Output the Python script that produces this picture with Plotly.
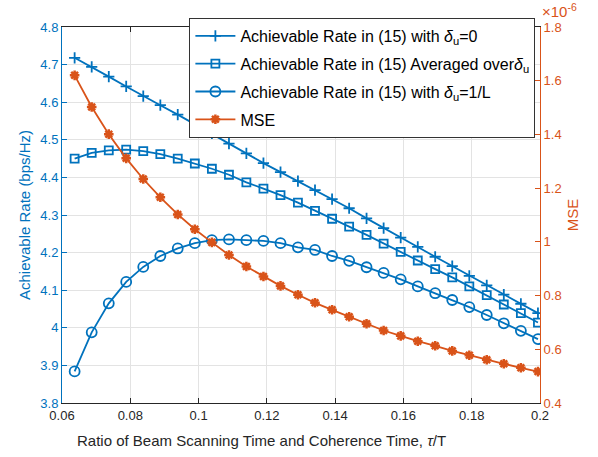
import plotly.graph_objects as go

tau_ratio = [0.0637, 0.0687, 0.0737, 0.0788, 0.0838, 0.0888, 0.0939, 0.0989,
             0.1039, 0.1089, 0.1140, 0.1190, 0.1240, 0.1291, 0.1341, 0.1391,
             0.1441, 0.1492, 0.1542, 0.1592, 0.1642, 0.1693, 0.1743, 0.1793,
             0.1844, 0.1894, 0.1944, 0.1994]

rate_delta0 = [4.718, 4.694, 4.668, 4.642, 4.616, 4.592, 4.567, 4.541, 4.517, 4.490,
               4.464, 4.438, 4.414, 4.390, 4.366, 4.342, 4.318, 4.291, 4.265, 4.240,
               4.215, 4.189, 4.164, 4.138, 4.113, 4.088, 4.064, 4.039]

rate_avg = [4.450, 4.465, 4.472, 4.474, 4.470, 4.462, 4.450, 4.437, 4.423, 4.407,
            4.387, 4.370, 4.353, 4.333, 4.311, 4.290, 4.269, 4.247, 4.224, 4.202,
            4.179, 4.156, 4.134, 4.110, 4.087, 4.062, 4.039, 4.014]

rate_delta1L = [3.884, 3.988, 4.065, 4.122, 4.162, 4.191, 4.211, 4.225, 4.233, 4.235,
                4.233, 4.231, 4.225, 4.214, 4.207, 4.191, 4.178, 4.161, 4.146, 4.129,
                4.110, 4.092, 4.074, 4.055, 4.034, 4.012, 3.992, 3.970]

mse_e6 = [1.620, 1.502, 1.401, 1.311, 1.234, 1.166, 1.102, 1.047, 0.998, 0.951,
          0.908, 0.871, 0.836, 0.803, 0.773, 0.747, 0.721, 0.695, 0.670, 0.650,
          0.630, 0.613, 0.594, 0.578, 0.561, 0.546, 0.531, 0.517]

x_ticks = [0.06, 0.08, 0.1, 0.12, 0.14, 0.16, 0.18, 0.2]
x_ticktext = ["0.06", "0.08", "0.1", "0.12", "0.14", "0.16", "0.18", "0.2"]
left_ticks = [3.8, 3.9, 4.0, 4.1, 4.2, 4.3, 4.4, 4.5, 4.6, 4.7, 4.8]
left_ticktext = ["3.8", "3.9", "4", "4.1", "4.2", "4.3", "4.4", "4.5", "4.6", "4.7", "4.8"]
right_ticks = [0.4, 0.6, 0.8, 1.0, 1.2, 1.4, 1.6, 1.8]
right_ticktext = ["0.4", "0.6", "0.8", "1", "1.2", "1.4", "1.6", "1.8"]

BLUE = "#0072BD"
ORANGE = "#D95319"
DARK = "#262626"
FONT = "Liberation Sans, Arial, Helvetica, sans-serif"

fig = go.Figure()
fig.add_trace(go.Scatter(
    x=tau_ratio, y=rate_delta0, mode="lines+markers", legendgroup="g1",
    name="Achievable Rate in (15) with <i>δ</i><sub>u</sub>=0",
    line=dict(color=BLUE, width=1.8),
    marker=dict(symbol="cross-thin", size=8, line=dict(color=BLUE, width=1.8))))
fig.add_trace(go.Scatter(
    x=tau_ratio, y=rate_avg, mode="lines+markers", legendgroup="g2",
    name="Achievable Rate in (15) Averaged over<i>δ</i><sub>u</sub>",
    line=dict(color=BLUE, width=1.8),
    marker=dict(symbol="square-open", size=8, color=BLUE, line=dict(color=BLUE, width=1.8))))
fig.add_trace(go.Scatter(
    x=tau_ratio, y=rate_delta1L, mode="lines+markers", legendgroup="g3",
    name="Achievable Rate in (15) with <i>δ</i><sub>u</sub>=1/L",
    line=dict(color=BLUE, width=1.8),
    marker=dict(symbol="circle-open", size=10, color=BLUE, line=dict(color=BLUE, width=1.8))))
fig.add_trace(go.Scatter(
    x=tau_ratio, y=mse_e6, mode="lines+markers", yaxis="y2", legendgroup="g4",
    name="MSE",
    line=dict(color=ORANGE, width=1.8),
    marker=dict(symbol="asterisk-open", size=8, color=ORANGE, line=dict(color=ORANGE, width=2.5))))

fig.update_layout(
    width=598, height=457,
    margin=dict(l=62, r=58, t=27, b=54),
    paper_bgcolor="white", plot_bgcolor="white",
    font=dict(family=FONT, size=13, color=DARK),
    xaxis=dict(range=[0.06, 0.2], tickvals=x_ticks, ticktext=x_ticktext,
               ticks="inside", ticklen=5, tickcolor=DARK, showline=True, linecolor=DARK,
               linewidth=1, mirror="ticks", showgrid=True, gridcolor="#e3e3e3",
               zeroline=False, tickfont=dict(size=13, color=DARK)),
    yaxis=dict(range=[3.8, 4.8], tickvals=left_ticks, ticktext=left_ticktext,
               ticks="inside", ticklen=5, tickcolor=BLUE, showline=True, linecolor=BLUE,
               linewidth=1, showgrid=True, gridcolor="#e3e3e3", zeroline=False,
               tickfont=dict(size=13, color=BLUE),
               title=dict(text="Achievable Rate (bps/Hz)", font=dict(size=15, color=BLUE), standoff=6)),
    yaxis2=dict(range=[0.4, 1.8], tickvals=right_ticks, ticktext=right_ticktext,
                overlaying="y", side="right", anchor="x",
                ticks="inside", ticklen=5, tickcolor=ORANGE, showline=True, linecolor=ORANGE,
                linewidth=1, showgrid=False, zeroline=False,
                tickfont=dict(size=13, color=ORANGE),
                title=dict(text="MSE", font=dict(size=15, color=ORANGE), standoff=6)),
    legend=dict(x=0.2665, y=1.024, xanchor="left", yanchor="top",
                bgcolor="white", bordercolor="#333333", borderwidth=1,
                font=dict(size=16, color="black"), tracegroupgap=4,
                itemwidth=40),
    showlegend=True,
)
fig.add_annotation(text="×10<sup>-6</sup>", xref="paper", yref="paper",
                   x=1.0, y=1.0, xanchor="left", yanchor="bottom", yshift=5, xshift=0,
                   showarrow=False, font=dict(size=15, color=ORANGE))
fig.add_annotation(text="Ratio of Beam Scanning Time and Coherence Time, <i>τ</i>/T",
                   xref="paper", yref="paper", x=0.418, y=0, xanchor="center",
                   yanchor="middle", yshift=-37, showarrow=False,
                   font=dict(size=15, color=DARK))

fig.write_html("out.html")
